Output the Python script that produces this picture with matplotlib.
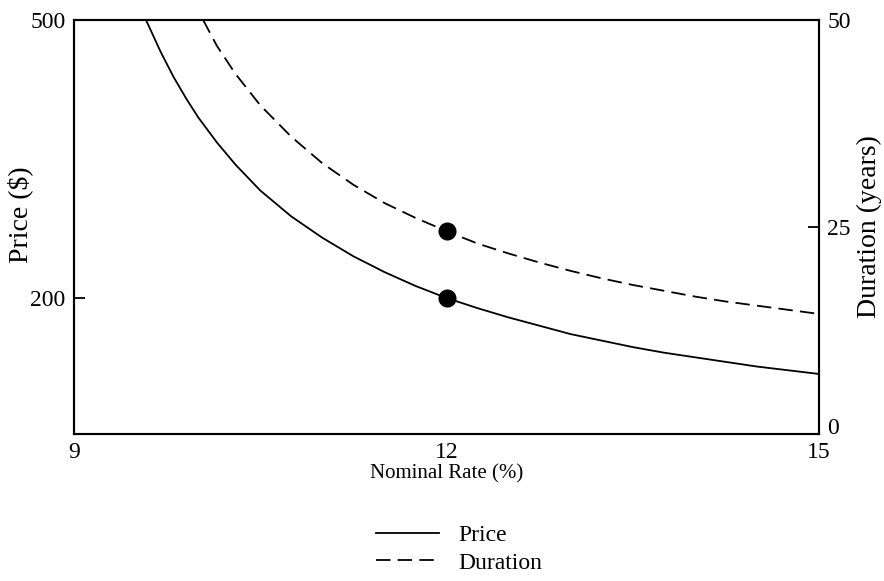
import matplotlib
matplotlib.use("Agg")
import matplotlib.pyplot as plt
from matplotlib.lines import Line2D

# values
rate_price = [9.58, 9.7, 9.8, 9.9, 10.0, 10.15, 10.3, 10.5, 10.75, 11.0, 11.25, 11.5, 11.75,
              12.0, 12.25, 12.5, 12.75, 13.0, 13.25, 13.5, 13.75, 14.0, 14.25, 14.5, 14.75, 15.0]
price = [500, 465, 439, 416, 395, 368, 344, 316, 288, 265, 245, 228, 213,
         200, 189, 179, 170, 161, 154, 147, 141, 136, 131, 126, 122, 118]

rate_dur = [10.04, 10.15, 10.3, 10.5, 10.75, 11.0, 11.25, 11.5, 11.75, 12.0, 12.25, 12.5,
            12.75, 13.0, 13.25, 13.5, 13.75, 14.0, 14.25, 14.5, 14.75, 15.0]
duration = [50, 46.9, 43.5, 39.7, 35.9, 32.7, 30.1, 27.9, 26.1, 24.5, 23.0, 21.8,
            20.7, 19.7, 18.8, 18.0, 17.3, 16.6, 16.0, 15.5, 15.0, 14.5]

dot_rate = 12
dot_price = 200
dot_duration = 24.5

plt.rcParams["font.family"] = ["Liberation Serif", "DejaVu Serif"]
plt.rcParams["font.size"] = 17

fig = plt.figure(figsize=(8.84, 5.81), dpi=100)
ax = fig.add_axes([0.0837, 0.253, 0.8428, 0.7126])
ax2 = ax.twinx()

ax.plot(rate_price, price, color="black", lw=1.3)
ax.plot([dot_rate], [dot_price], "o", color="black", ms=12)
ax2.plot(rate_dur, duration, color="black", lw=1.3, dashes=(8, 4))
ax2.plot([dot_rate], [dot_duration], "o", color="black", ms=12)

ax.set_xlim(9, 15)
ax.set_ylim(53.2, 500)
ax2.set_ylim(0, 50)

ax.set_xticks([9, 12, 15])
ax.set_yticks([200, 500])
ax2.set_yticks([0, 25, 50])

ax.tick_params(axis="x", length=0, pad=6)
ax.tick_params(axis="y", direction="in", length=8, width=1.3, pad=6)
ax2.tick_params(axis="y", direction="in", length=8, width=1.3, pad=6)

# the "0" on the right axis sits on the corner, just above the "15"
ax2.get_yticklabels()[0].set_va("baseline")

for a in (ax, ax2):
    for s in a.spines.values():
        s.set_linewidth(1.5)

ax.set_xlabel("Nominal Rate (%)", fontsize=15, labelpad=1)
ax.set_ylabel("Price ($)", fontsize=20)
ax.yaxis.set_label_coords(-0.055, 0.53)
ax2.set_ylabel("Duration (years)", fontsize=20, labelpad=4)

handles = [
    Line2D([], [], color="black", lw=1.3),
    Line2D([], [], color="black", lw=1.3, dashes=(8, 4)),
]
fig.legend(handles, ["Price", "Duration"], loc="center", bbox_to_anchor=(0.519, 0.055),
           frameon=False, handlelength=2.7, handletextpad=0.8, labelspacing=0.25, fontsize=17)

fig.savefig("out.png", dpi=100)
